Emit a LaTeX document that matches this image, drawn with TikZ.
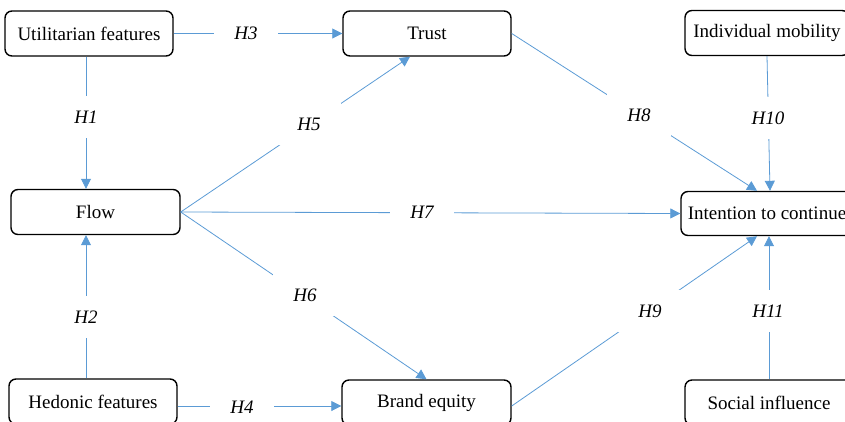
\documentclass[tikz,border=0pt]{standalone}
\usepackage{fontspec}
\setmainfont{Liberation Serif}
\usetikzlibrary{arrows.meta}
\definecolor{lineblue}{RGB}{91,155,213}
\tikzset{
  box/.style={draw=black, line width=1.4pt, rounded corners=7pt, fill=white,
    minimum height=45pt, inner sep=0pt, font=\fontsize{19}{22}\selectfont},
  link/.style={draw=lineblue, line width=0.8pt},
  arr/.style={link, -{Triangle[length=10pt,width=10pt]}},
  hlab/.style={fill=white, minimum width=64pt, minimum height=42pt, inner sep=0pt,
    font=\fontsize{19}{22}\selectfont\itshape}
}
\begin{document}
\begin{tikzpicture}[x=1pt,y=-1pt]
\useasboundingbox (0,0) rectangle (845,421);
\clip (0,0) rectangle (845,421);
% boxes
\node[box, minimum width=168pt] (util) at (89,33.5) {Utilitarian features};
\node[box, minimum width=168pt] (trust) at (427,33.5) {Trust};
\node[box, minimum width=164pt] (indiv) at (767,33) {Individual mobility};
\node[box, minimum width=169pt] (flow) at (95.5,212) {Flow};
\node[box, minimum width=172pt, minimum height=44pt] (intent) at (767,213.5) {Intention to continue};
\node[box, minimum width=168pt] (hed) at (93,401.5) {Hedonic features};
\node[box, minimum width=169pt] (brand) at (426.5,402.5) {Brand equity};
\node[box, minimum width=168pt] (social) at (769,402.5) {Social influence};
% connector end points
\coordinate (u1) at ([xshift=-3pt]util.south);
\coordinate (f1) at ([xshift=-9.5pt]flow.north);
\coordinate (f2) at ([xshift=-9.5pt]flow.south);
\coordinate (h1) at ([xshift=-7pt]hed.north);
\coordinate (t1) at ([xshift=-17pt]trust.south);
\coordinate (i1) at ([xshift=-10pt]intent.north);
\coordinate (i2) at ([xshift=3pt]intent.north);
\coordinate (i3) at ([xshift=-10pt]intent.south);
\coordinate (i4) at ([xshift=2pt]intent.south);
\coordinate (h2) at ([yshift=-4.5pt]hed.east);
\coordinate (b2) at ([yshift=-3.5pt]brand.west);
\coordinate (b3) at ([yshift=-3.5pt]brand.east);
% connectors
\draw[arr] (util.east) -- (trust.west);
\draw[arr] (u1) -- (f1);
\draw[arr] (h1) -- (f2);
\draw[arr] (h2) -- (b2);
\draw[arr] (flow.east) -- (t1);
\draw[arr] (flow.east) -- (intent.west);
\draw[arr] (flow.east) -- (brand.north);
\draw[arr] (trust.east) -- (i1);
\draw[arr] (indiv.south) -- (i2);
\draw[arr] (b3) -- (i3);
\draw[arr] (social.north) -- (i4);
% labels
\node[hlab] (l3) at (246,33) {H3};
\node[hlab] (l1) at (86,117) {H1};
\node[hlab] (l5) at (309,124) {H5};
\node[hlab] (l7) at (422,212) {H7};
\node[hlab] (l6) at (305,295) {H6};
\node[hlab] (l2) at (86,317) {H2};
\node[hlab] (l4) at (242,407) {H4};
\node[hlab] (l8) at (639,115) {H8};
\node[hlab] (l10) at (768,118) {H10};
\node[hlab] (l9) at (650,311) {H9};
\node[hlab] (l11) at (768,311) {H11};
\end{tikzpicture}
\end{document}
